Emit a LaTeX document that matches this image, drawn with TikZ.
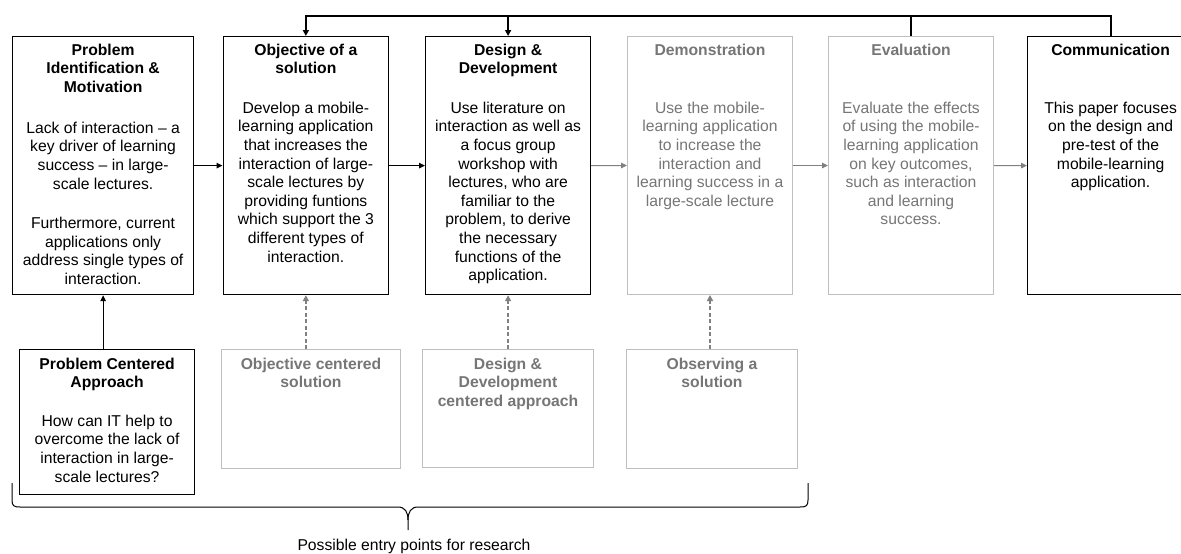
\documentclass[tikz,border=0pt]{standalone}
\usepackage{fontspec}
\setmainfont{Liberation Sans}
\usetikzlibrary{arrows.meta}
\definecolor{gtext}{RGB}{118,118,118}
\definecolor{gline}{RGB}{191,191,191}
\definecolor{garrow}{RGB}{128,128,128}
\newcommand{\fs}{\rule{0pt}{12pt}}
\begin{document}
\begin{tikzpicture}[x=1pt,y=-1pt,
  dbox/.style={draw=black, line width=1.2pt, rectangle, inner sep=0pt, anchor=north west, minimum height=258pt},
  gbox/.style={draw=gline, line width=1pt, rectangle, inner sep=0pt, anchor=north west, minimum height=258pt},
  txt/.style={inner sep=0pt, align=center, anchor=north, font=\fontsize{15.7}{18.6}\selectfont},
  ttl/.style={txt, font=\fontsize{15.7}{18.6}\selectfont\bfseries},
  gtxt/.style={txt, text=gtext},
  gttl/.style={ttl, text=gtext},
  darr/.style={draw=black, line width=1.2pt, -{Triangle[length=6pt,width=5.5pt]}},
  garr/.style={draw=garrow, line width=1pt, -{Triangle[length=6pt,width=5.5pt]}},
  dasharr/.style={draw=garrow, line width=1.6pt, dash pattern=on 4pt off 2.5pt, -{Triangle[length=6pt,width=6pt]}},
  fbk/.style={draw=black, line width=1.8pt},
  fbkarr/.style={fbk, -{Triangle[length=6pt,width=6pt]}}
]
\useasboundingbox (0,0) rectangle (1181,554);
\fill[white] (0,0) rectangle (1181,554);

% top row boxes
\node[dbox, minimum width=181pt] (p1) at (12,36) {};
\node[dbox, minimum width=165.5pt] (p2) at (222.5,36) {};
\node[dbox, minimum width=165pt] (p3) at (425,36) {};
\node[gbox, minimum width=165pt] (p4) at (627,36) {};
\node[gbox, minimum width=165pt] (p5) at (828,36) {};
\node[dbox, minimum width=166pt] (p6) at (1027,36) {};

% bottom row boxes
\node[dbox, minimum width=175pt, minimum height=145pt] (b1) at (19,349) {};
\node[gbox, minimum width=179pt, minimum height=119pt] (b2) at (221,349) {};
\node[gbox, minimum width=171pt, minimum height=118pt] (b3) at (422,349) {};
\node[gbox, minimum width=171pt, minimum height=119pt] (b4) at (626,349) {};

% titles
\node[ttl] (p1t) at (p1.north |- 0,43) {\fs Problem\\Identification \&\\Motivation};
\node[ttl] (p2t) at (p2.north |- 0,43) {\fs Objective of a\\solution};
\node[ttl] (p3t) at (p3.north |- 0,43) {\fs Design \&\\Development};
\node[gttl] (p4t) at (p4.north |- 0,43) {\fs Demonstration};
\node[gttl] (p5t) at (p5.north |- 0,43) {\fs Evaluation};
\node[ttl] (p6t) at (p6.north |- 0,43) {\fs Communication};

% bodies
\node[txt] (p1b) at (p1.north |- 0,121) {\fs Lack of interaction – a\\key driver of learning\\success – in large-\\scale lectures.\\[21pt]Furthermore, current\\applications only\\address single types of\\interaction.};
\node[txt] (p2b) at (p2.north |- 0,101) {\fs Develop a mobile-\\learning application\\that increases the\\interaction of large-\\scale lectures by\\providing funtions\\which support the 3\\different types of\\interaction.};
\node[txt] (p3b) at (p3.north |- 0,101) {\fs Use literature on\\interaction as well as\\a focus group\\workshop with\\lectures, who are\\familiar to the\\problem, to derive\\the necessary\\functions of the\\application.};
\node[gtxt] (p4b) at (p4.north |- 0,101) {\fs Use the mobile-\\learning application\\to increase the\\interaction and\\learning success in a\\large-scale lecture};
\node[gtxt] (p5b) at (p5.north |- 0,101) {\fs Evaluate the effects\\of using the mobile-\\learning application\\on key outcomes,\\such as interaction\\and learning\\success.};
\node[txt] (p6b) at (p6.north |- 0,101) {\fs This paper focuses\\on the design and\\pre-test of the\\mobile-learning\\application.};

% bottom texts
\node[ttl] (b1t) at (b1.north |- 0,357) {\fs Problem Centered\\Approach};
\node[txt] (b1b) at (b1.north |- 0,414) {\fs How can IT help to\\overcome the lack of\\interaction in large-\\scale lectures?};
\node[gttl] (b2t) at (b2.north |- 0,357) {\fs Objective centered\\solution};
\node[gttl] (b3t) at (b3.north |- 0,357) {\fs Design \&\\Development\\centered approach};
\node[gttl] (b4t) at (b4.north |- 0,357) {\fs Observing a\\solution};

% horizontal arrows
\draw[darr] (p1.east) -- (p2.west);
\draw[darr] (p2.east) -- (p3.west);
\draw[garr] (p3.east) -- (p4.west);
\draw[garr] (p4.east) -- (p5.west);
\draw[garr] (p5.east) -- (p6.west);

% vertical arrows from bottom row
\draw[darr] (p1.south |- b1.north) -- (p1.south);
\draw[dasharr] (p2.south |- b2.north) -- (p2.south);
\draw[dasharr] (p3.south |- b3.north) -- (p3.south);
\draw[dasharr] (p4.south |- b4.north) -- (p4.south);

% feedback line
\coordinate (topy) at (0,16);
\draw[fbkarr] (p6.north) -- (p6.north |- topy) -- (p2.north |- topy) -- (p2.north);
\draw[fbkarr] (p3.north |- topy) -- (p3.north);
\draw[fbk] (p5.north) -- (p5.north |- topy);

% brace
\draw[black, line width=1pt]
  (12,483) -- (12,500) .. controls (12,506) and (14,507) .. (20,507)
  -- (398,507) .. controls (405,507) and (408,512) .. (408,520) -- (408,530);
\draw[black, line width=1pt]
  (808,483) -- (808,500) .. controls (808,506) and (806,507) .. (800,507)
  -- (418,507) .. controls (411,507) and (408,512) .. (408,520);
\node[inner sep=0pt, font=\fontsize{15.7}{18.6}\selectfont] (lab) at (414,546) {Possible entry points for research};
\end{tikzpicture}
\end{document}
